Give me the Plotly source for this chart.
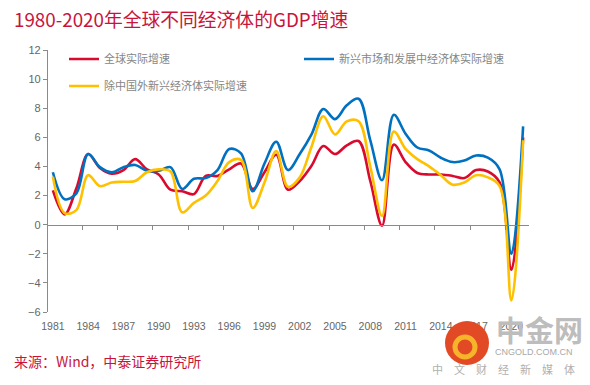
import plotly.graph_objects as go

# ---------------- data ----------------
years = list(range(1981, 2022))
world = [2.35, 0.7, 2.5, 4.85, 3.9, 3.5, 3.75, 4.5, 3.8, 3.45,
         2.4, 2.3, 2.1, 3.35, 3.35, 3.8, 4.2, 2.45, 3.6, 4.8,
         2.4, 3.0, 4.05, 5.4, 4.85, 5.45, 5.75, 3.0, -0.07, 5.5,
         4.3, 3.55, 3.45, 3.45, 3.35, 3.2, 3.75, 3.65, 2.9, -3.1, 6.0]
emerging = [3.6, 1.75, 2.15, 4.85, 3.95, 3.6, 3.95, 4.1, 3.7, 3.7,
            3.95, 2.45, 3.15, 3.2, 3.75, 5.2, 4.9, 2.3, 4.2, 5.7,
            3.75, 4.85, 6.2, 7.95, 7.25, 8.2, 8.65, 5.8, 3.05, 7.55,
            6.25, 5.3, 5.1, 4.6, 4.3, 4.4, 4.75, 4.6, 3.8, -2.0, 6.75]
em_ex_china = [3.3, 0.8, 1.0, 3.4, 2.65, 2.9, 2.95, 3.0, 3.6, 3.8,
               3.65, 0.85, 1.5, 2.0, 3.0, 4.3, 4.45, 1.15, 2.9, 5.05,
               2.6, 3.25, 5.35, 7.45, 6.2, 7.1, 7.1, 4.0, 0.6, 6.4,
               5.2, 4.5, 4.0, 3.4, 2.75, 2.9, 3.4, 3.25, 2.65, -5.2, 5.8]
series_names = ["全球实际增速", "新兴市场和发展中经济体实际增速", "除中国外新兴经济体实际增速"]
tick_years = years[::3]
tick_labels = [str(y) for y in tick_years]
y_ticks = list(range(-6, 13, 2))

# ---------------- layout geometry ----------------
W, H = 590, 385
L, R, T, B = 47, 61, 50, 73
PW, PH = W - L - R, H - T - B
AX = "#8a8a8a"
RED, BLUE, YEL = "#DA0A2E", "#0070C0", "#FFC000"
TITLE_C = "#C8143C"

def px(x):
    return (x - L) / PW

def py(y):
    return (H - B - y) / PH

fig = go.Figure()
for vals, name, col, lg in [(world, series_names[0], RED, "legend"),
                            (emerging, series_names[1], BLUE, "legend2"),
                            (em_ex_china, series_names[2], YEL, "legend3")]:
    fig.add_trace(go.Scatter(x=years, y=vals, name=name, mode="lines",
                             line=dict(color=col, width=2.6, shape="spline", smoothing=1.0),
                             legend=lg, hoverinfo="x+y"))
# helper trace for the label axis
fig.add_trace(go.Scatter(x=years, y=world, xaxis="x2", mode="lines",
                         line=dict(width=0), opacity=0, showlegend=False, hoverinfo="skip"))

x_range = [years[0] - 0.5, years[-1] + 0.5]
boundary_ticks = [y - 0.5 for y in tick_years]

leg_font = dict(family="Noto Sans CJK SC", size=11, color="#858585")
def leg(xp, yp):
    return dict(x=px(xp), y=py(yp), xref="paper", yref="paper",
                xanchor="left", yanchor="middle", font=leg_font,
                bgcolor="rgba(0,0,0,0)", borderwidth=0, itemwidth=30)

fig.update_layout(
    width=W, height=H,
    margin=dict(l=L, r=R, t=T, b=B, pad=0, autoexpand=False),
    paper_bgcolor="white", plot_bgcolor="white",
    showlegend=True,
    xaxis=dict(range=x_range, anchor="free", position=6 / 18, domain=[0, 1], showline=True,
               linecolor=AX, linewidth=1.3, showgrid=False, zeroline=False,
               tickmode="array", tickvals=boundary_ticks, ticks="outside",
               ticklen=4, tickcolor=AX, tickwidth=1.2, showticklabels=False),
    xaxis2=dict(range=x_range, overlaying="x", anchor="free", position=0, side="bottom",
                showline=False, showgrid=False, zeroline=False,
                tickmode="array", tickvals=tick_years, ticktext=tick_labels,
                ticks="outside", ticklen=4, tickcolor="rgba(0,0,0,0)",
                tickfont=dict(family="Liberation Sans", size=10.5, color="#666666")),
    yaxis=dict(range=[-6, 12], anchor="free", position=0, domain=[0, 1],
               tickmode="array", tickvals=y_ticks, showline=True,
               linecolor=AX, linewidth=1.3, showgrid=False, zeroline=False,
               ticks="outside", ticklen=4, tickcolor=AX, tickwidth=1.2,
               tickfont=dict(family="Liberation Sans", size=11, color="#666666")),
    legend=leg(64, 59),
    legend2=leg(299, 59),
    legend3=leg(64, 86),
)

# title
fig.add_annotation(text="1980-2020年全球不同经济体的GDP增速", xref="paper", yref="paper",
                   x=px(12), y=py(19), xanchor="left", yanchor="middle", showarrow=False,
                   font=dict(family="Noto Sans CJK SC", size=18.8, color=TITLE_C))

# source note
fig.add_annotation(text="来源：Wind，中泰证券研究所", xref="paper", yref="paper",
                   x=px(12), y=py(361), xanchor="left", yanchor="middle", showarrow=False,
                   font=dict(family="Noto Sans CJK SC", size=14, color=TITLE_C))

# watermark (logo + text)
cx, cy, r = 467, 343, 22
fig.add_shape(type="circle", xref="paper", yref="paper", layer="above",
              x0=px(cx - r), x1=px(cx + r), y0=py(cy + r), y1=py(cy - r),
              fillcolor="#E24A25", line=dict(width=0))
r2 = 10
fig.add_shape(type="circle", xref="paper", yref="paper", layer="above",
              x0=px(cx - r2 - 2), x1=px(cx + r2 - 2), y0=py(cy + 4 + r2), y1=py(cy + 4 - r2),
              fillcolor="rgba(0,0,0,0)", line=dict(width=5, color="#F6B42A"))
fig.add_annotation(text="<b>中金网</b>", xref="paper", yref="paper", x=px(539), y=py(329),
                   xanchor="center", yanchor="middle", showarrow=False,
                   font=dict(family="Noto Sans CJK SC", size=29, color="#BDBDBD"))
fig.add_annotation(text="CNGOLD.COM.CN", xref="paper", yref="paper", x=px(534), y=py(352),
                   xanchor="center", yanchor="middle", showarrow=False,
                   font=dict(family="Liberation Sans", size=9, color="#A8A8A8"))
fig.add_annotation(text="中　文　财　经　新　媒　体", xref="paper", yref="paper", x=px(503), y=py(369),
                   xanchor="center", yanchor="middle", showarrow=False,
                   font=dict(family="Noto Sans CJK SC", size=11, color="#B0B0B0"))

fig.write_html("out.html", config={"displayModeBar": False},
               post_script="document.body.style.margin='0px';document.body.style.padding='0px';")
